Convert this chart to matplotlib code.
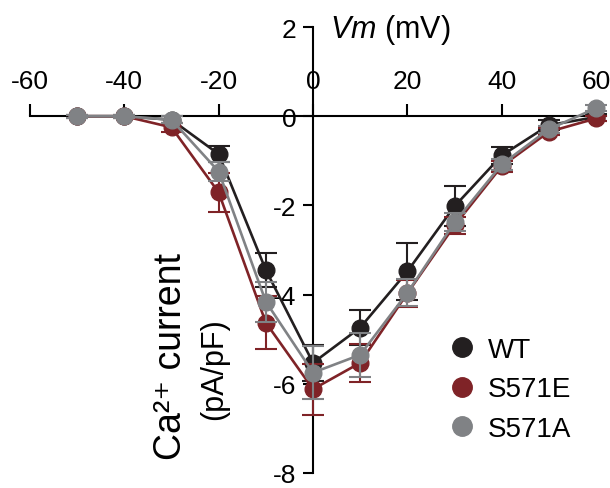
import matplotlib
matplotlib.use("Agg")
import matplotlib.pyplot as plt
from matplotlib.lines import Line2D

plt.rcParams['font.family'] = ['Liberation Sans', 'DejaVu Sans']
plt.rcParams['mathtext.fontset'] = 'custom'
plt.rcParams['mathtext.rm'] = 'Liberation Sans'
plt.rcParams['mathtext.it'] = 'Liberation Sans:italic'

# membrane potential steps (mV)
vm = [-50, -40, -30, -20, -10, 0, 10, 20, 30, 40, 50, 60]

# mean Ca2+ current density (pA/pF) and SEM
wt = [0.0, 0.0, -0.08, -0.85, -3.45, -5.53, -4.74, -3.48, -2.02, -0.88, -0.2, -0.02]
wt_err = [0.03, 0.03, 0.08, 0.18, 0.38, 0.4, 0.4, 0.63, 0.45, 0.2, 0.12, 0.08]

s571e = [0.0, 0.0, -0.25, -1.71, -4.63, -6.12, -5.53, -3.97, -2.45, -1.12, -0.35, -0.05]
s571e_err = [0.03, 0.03, 0.1, 0.43, 0.6, 0.57, 0.43, 0.3, 0.2, 0.12, 0.08, 0.06]

s571a = [0.0, 0.0, -0.08, -1.24, -4.16, -5.75, -5.35, -3.96, -2.38, -1.08, -0.29, 0.18]
s571a_err = [0.03, 0.03, 0.08, 0.22, 0.45, 0.6, 0.5, 0.3, 0.2, 0.12, 0.08, 0.06]

names = ['WT', 'S571E', 'S571A']
colors = ['#231f20', '#7f2327', '#808285']

fig = plt.figure(figsize=(6.1, 4.89), dpi=100)
ax = fig.add_axes([30 / 610, 1 - 474 / 489, 575.5 / 610, 446 / 489])

series = [(wt, wt_err), (s571e, s571e_err), (s571a, s571a_err)]
for i, ((y, e), c) in enumerate(zip(series, colors)):
    ax.errorbar(vm, y, yerr=e, color=c, ecolor=c, lw=1.9, elinewidth=1.5,
                capsize=8, capthick=1.5, marker='o', ms=12, mec=c, mfc=c,
                zorder=3 + i, clip_on=False)

ax.set_xlim(-60, 62)
ax.set_ylim(-8, 2)

ax.spines['right'].set_visible(False)
ax.spines['bottom'].set_visible(False)
ax.spines['top'].set_position(('data', 0))
ax.spines['left'].set_position(('data', 0))
ax.spines['top'].set_linewidth(1.5)
ax.spines['left'].set_linewidth(1.5)

ax.xaxis.set_ticks_position('top')
ax.set_xticks([-60, -40, -20, 0, 20, 40, 60])
ax.set_yticks([2, 0, -2, -4, -6, -8])
ax.tick_params(axis='x', direction='out', length=9, width=1.5, pad=8, labelsize=19)
ax.tick_params(axis='y', direction='out', length=7, width=1.5, pad=5, labelsize=19)
ax.set_yticklabels(['2', '0', '-2', '-4', '-6', '-8'])
ax.set_xticklabels(['-60', '-40', '-20', '0', '20', '40', '60'])

fig.text(330 / 610, 1 - 30 / 489, r'$\it{Vm}$ (mV)', fontsize=22,
         ha='left', va='center')
fig.text(171 / 610, 1 - 357 / 489, 'Ca²⁺ current', fontsize=27,
         rotation=90, ha='center', va='center')
fig.text(214 / 610, 1 - 369 / 489, '(pA/pF)', fontsize=22,
         rotation=90, ha='center', va='center')

handles = [Line2D([], [], ls='none', marker='o', ms=14, color=c) for c in colors]
ax.legend(handles, names, loc='upper left', bbox_to_anchor=(452 / 610, 1 - 338 / 489),
          bbox_transform=fig.transFigure, frameon=False, handlelength=0.7,
          handletextpad=0.6, labelspacing=0.48, fontsize=20, borderpad=0,
          borderaxespad=0)

fig.savefig('out.png', dpi=100)
